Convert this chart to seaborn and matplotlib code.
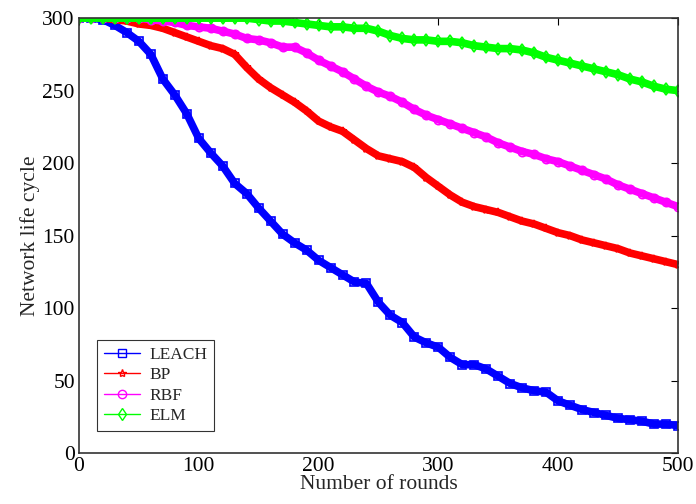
import numpy as np
import pandas as pd
import matplotlib
matplotlib.use("Agg")
import matplotlib.pyplot as plt
import seaborn as sns
from matplotlib.lines import Line2D

# rounds sampled every 10
rounds = list(range(0, 501, 10))

leach = [300, 300, 299, 295, 290, 284, 275, 258, 247, 234,
         217, 207, 198, 186, 179, 169, 160, 151, 145, 140,
         133, 128, 123, 118, 117, 104, 95, 90, 80, 76,
         73, 66, 61, 61, 58, 53, 48, 45, 43, 42,
         36, 33, 30, 28, 26, 24, 23, 22, 20, 20, 19]
bp = [300, 300, 300, 299, 298, 296, 295, 293, 290, 287,
      284, 281, 279, 275, 266, 258, 252, 247, 242, 236,
      229, 225, 222, 216, 210, 205, 203, 201, 197, 190,
      184, 178, 173, 170, 168, 166, 163, 160, 158, 155,
      152, 150, 147, 145, 143, 141, 138, 136, 134, 132, 130]
rbf = [300, 300, 300, 300, 300, 300, 299, 298, 297, 295,
       294, 293, 291, 289, 286, 285, 283, 280, 280, 276,
       271, 267, 263, 258, 253, 249, 246, 242, 237, 233,
       230, 227, 224, 221, 218, 214, 211, 208, 206, 203,
       201, 198, 195, 192, 189, 185, 182, 179, 176, 173, 170]
elm = [300, 300, 300, 300, 300, 300, 300, 300, 300, 300,
       300, 300, 300, 300, 300, 299, 298, 298, 297, 296,
       295, 294, 294, 293, 293, 291, 288, 286, 285, 285,
       284, 284, 283, 281, 280, 279, 279, 278, 276, 273,
       271, 269, 267, 265, 263, 261, 258, 256, 253, 251, 250]

names = ["LEACH", "BP", "RBF", "ELM"]
colors = ["#0000ff", "#ff0000", "#ff00ff", "#00ff00"]
markers = ["s", "*", "o", "d"]

df = pd.DataFrame({"rounds": rounds, "LEACH": leach, "BP": bp, "RBF": rbf, "ELM": elm})

sns.set_style("white")
plt.rcParams["font.family"] = ["Liberation Serif", "DejaVu Serif"]

fig = plt.figure(figsize=(6.96, 5.04), dpi=100)
ax = fig.add_axes([0.1135, 0.101, 0.8605, 0.863])

for name, c, m in zip(names, colors, markers):
    sns.lineplot(data=df, x="rounds", y=name, ax=ax, color=c, linewidth=5.5,
                 marker=m, markersize=6, markerfacecolor="none",
                 markeredgecolor=c, markeredgewidth=1.2, legend=False)

ax.set_xlim(0, 500)
ax.set_ylim(0, 300)
ax.set_xticks([0, 100, 200, 300, 400, 500])
ax.set_yticks([0, 50, 100, 150, 200, 250, 300])
ax.tick_params(direction="in", top=True, right=True, length=5, width=0.8,
               labelsize=15.5, colors="black", pad=3)
for s in ax.spines.values():
    s.set_visible(True)
    s.set_color("#333333")
    s.set_linewidth(1.2)

ax.set_xlabel("Number of rounds", fontsize=15.5, labelpad=-1)
ax.set_ylabel("Network life cycle", fontsize=15.5, labelpad=2)

handles = [Line2D([0], [0], color=c, marker=m, markersize=6, markerfacecolor="none",
                  markeredgecolor=c, linewidth=1) for c, m in zip(colors, markers)]
leg = ax.legend(handles, names, loc="lower left", bbox_to_anchor=(0.03, 0.05),
                fontsize=12.5, frameon=True, fancybox=False, edgecolor="black",
                handlelength=2.1, handletextpad=0.5, borderpad=0.4,
                labelspacing=0.25, borderaxespad=0)
leg.get_frame().set_linewidth(0.8)

fig.savefig("out.png", dpi=100)
